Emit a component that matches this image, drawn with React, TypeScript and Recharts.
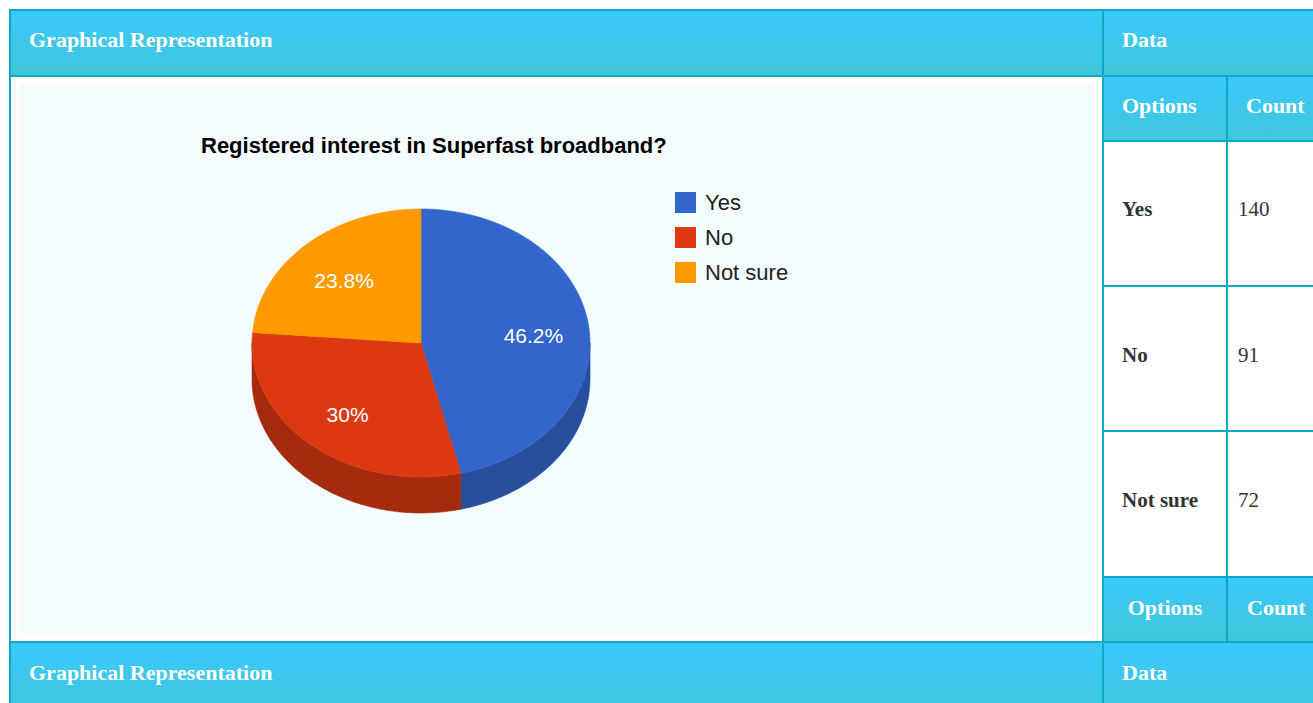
import React from "react";
import { PieChart, Pie, Cell, Legend } from "recharts";

// survey answers
const options = ["Yes", "No", "Not sure"];
const counts = [140, 91, 72];
const sliceColors = ["#3366cc", "#dc3912", "#ff9900"];
const sideColors = ["#274f9c", "#a52b0f", "#bf7300"];
const chartTitle = "Registered interest in Superfast broadband?";
const headLeft = "Graphical Representation";
const headRight = "Data";
const colHeads = ["Options", "Count"];

const pieData = options.map((name, i) => ({ name, value: counts[i] }));

const TILT = 134 / 169; // squash of the top ellipse
const DEPTH = 36; // height of the pie wall
const LINE = "#0aabc2";
const HEAD_BG = "linear-gradient(to bottom, #3bc8fd, #40c6da)";
const SERIF = "'Liberation Serif', 'Times New Roman', serif";
const SANS = "Arial, 'Liberation Sans', sans-serif";

const pos = (x: number, y: number, w: number, h: number, extra: any = {}) => ({
  position: "absolute" as const,
  left: x,
  top: y,
  width: w,
  height: h,
  ...extra,
});

// text placed by baseline (line-height 1 -> baseline ~0.8375em below top)
function Txt({ x, y, size, bold, color, children, w, center }: any) {
  return (
    <div
      style={{
        position: "absolute",
        left: x,
        top: y - size * 0.8375,
        width: w,
        textAlign: center ? "center" : "left",
        fontFamily: SERIF,
        fontWeight: bold ? "bold" : "normal",
        fontSize: size,
        lineHeight: 1,
        color,
        whiteSpace: "nowrap",
      }}
    >
      {children}
    </div>
  );
}

function fmtPct(p: number) {
  return `${parseFloat((p * 100).toFixed(1))}%`;
}

// draws each slice as a tilted 3d wedge, using the angles recharts computed
function slice3d(props: any) {
  const { cx, cy, outerRadius: r, startAngle, endAngle, percent, index } = props;
  const pt = (a: number, rad: number, dy = 0) => {
    const t = (a * Math.PI) / 180;
    return [cx + rad * Math.cos(t), cy - rad * TILT * Math.sin(t) + dy];
  };
  const arc = (a1: number, a2: number, dy = 0) => {
    const n = Math.max(2, Math.ceil(Math.abs(a2 - a1)));
    const out: string[] = [];
    for (let i = 0; i <= n; i++) {
      const p = pt(a1 + ((a2 - a1) * i) / n, r, dy);
      out.push(`${p[0].toFixed(2)},${p[1].toFixed(2)}`);
    }
    return out;
  };
  const top = `M${cx},${cy} L${arc(startAngle, endAngle).join(" L")} Z`;
  const lo = Math.min(startAngle, endAngle);
  const hi = Math.max(startAngle, endAngle);
  const walls: string[] = [];
  for (let k = -2; k <= 1; k++) {
    const a = Math.max(lo, -180 + 360 * k);
    const b = Math.min(hi, 360 * k);
    if (b > a) {
      walls.push(`M${arc(a, b).join(" L")} L${arc(b, a, DEPTH).join(" L")} Z`);
    }
  }
  const mid = (startAngle + endAngle) / 2;
  const lp = pt(mid, r * 0.67, 3);
  return (
    <g key={`s-${index}`}>
      {walls.map((d, i) => (
        <path key={i} d={d} fill={sideColors[index]} stroke={sideColors[index]} strokeWidth={0.6} />
      ))}
      <path d={top} fill={sliceColors[index]} stroke={sliceColors[index]} strokeWidth={0.6} />
      <text
        x={lp[0]}
        y={lp[1]}
        textAnchor="middle"
        dominantBaseline="central"
        fill="#ffffff"
        fontSize={21}
        fontFamily={SANS}
      >
        {fmtPct(percent)}
      </text>
    </g>
  );
}

function LegendBox(p: any) {
  const items = [...(p.payload || [])].sort(
    (a: any, b: any) => options.indexOf(a.value) - options.indexOf(b.value)
  );
  return (
    <div>
      {items.map((e: any, i: number) => {
        const idx = options.indexOf(e.value);
        return (
          <div key={i} style={{ display: "flex", alignItems: "flex-start", height: 35 }}>
            <span style={{ width: 21, height: 21, background: sliceColors[idx >= 0 ? idx : i] }} />
            <span
              style={{
                marginLeft: 9,
                fontFamily: SANS,
                fontSize: 22,
                lineHeight: "21px",
                color: "#222222",
              }}
            >
              {e.value}
            </span>
          </div>
        );
      })}
    </div>
  );
}

export default function App() {
  const rowBase = [217, 363, 508];
  return (
    <div style={{ position: "relative", width: 1313, height: 703, overflow: "hidden", background: "#fff" }}>
      <style>{`html,body{margin:0;padding:0;overflow:hidden;}`}</style>
      {/* header fills */}
      <div style={pos(11, 11, 1091, 64, { background: HEAD_BG })} />
      <div style={pos(1104, 11, 220, 64, { background: HEAD_BG })} />
      <div style={pos(1104, 77, 122, 63, { background: HEAD_BG })} />
      <div style={pos(1228, 77, 100, 63, { background: HEAD_BG })} />
      <div style={pos(1104, 578, 122, 63, { background: HEAD_BG })} />
      <div style={pos(1228, 578, 100, 63, { background: HEAD_BG })} />
      <div style={pos(11, 643, 1091, 70, { background: HEAD_BG })} />
      <div style={pos(1104, 643, 220, 70, { background: HEAD_BG })} />

      {/* grid lines */}
      <div style={pos(9, 9, 1320, 2, { background: LINE })} />
      <div style={pos(9, 75, 1320, 2, { background: LINE })} />
      <div style={pos(1102, 140, 230, 2, { background: LINE })} />
      <div style={pos(1102, 285, 230, 2, { background: LINE })} />
      <div style={pos(1102, 430, 230, 2, { background: LINE })} />
      <div style={pos(1102, 576, 230, 2, { background: LINE })} />
      <div style={pos(9, 641, 1320, 2, { background: LINE })} />
      <div style={pos(9, 9, 2, 700, { background: LINE })} />
      <div style={pos(1102, 9, 2, 700, { background: LINE })} />
      <div style={pos(1226, 75, 2, 568, { background: LINE })} />

      {/* header texts */}
      <Txt x={29} y={47} size={22} bold color="#fff">{headLeft}</Txt>
      <Txt x={1122} y={47} size={22} bold color="#fff">{headRight}</Txt>
      <Txt x={1122} y={113} size={22} bold color="#fff">{colHeads[0]}</Txt>
      <Txt x={1246} y={113} size={22} bold color="#fff">{colHeads[1]}</Txt>
      <Txt x={1104} w={122} center y={615} size={22} bold color="#fff">{colHeads[0]}</Txt>
      <Txt x={1247} y={615} size={22} bold color="#fff">{colHeads[1]}</Txt>
      <Txt x={29} y={680} size={22} bold color="#fff">{headLeft}</Txt>
      <Txt x={1122} y={680} size={22} bold color="#fff">{headRight}</Txt>

      {/* data rows */}
      {options.map((o, i) => (
        <React.Fragment key={o}>
          <Txt x={1122} y={rowBase[i]} size={21} bold color="#333">{o}</Txt>
          <Txt x={1238} y={rowBase[i]} size={21} color="#333">{counts[i]}</Txt>
        </React.Fragment>
      ))}

      {/* chart panel */}
      <div style={pos(20, 85, 1073, 548, { background: "#f3fbfd" })}>
        <PieChart width={1073} height={548} margin={{ top: 0, right: 0, bottom: 0, left: 0 }}>
          <text
            x={181}
            y={68}
            fill="#000"
            fontSize={22}
            fontWeight="bold"
            fontFamily={SANS}
          >
            {chartTitle}
          </text>
          <Pie
            data={pieData}
            dataKey="value"
            nameKey="name"
            cx={401}
            cy={258}
            outerRadius={169}
            startAngle={90}
            endAngle={-270}
            stroke="none"
            fillOpacity={0}
            label={slice3d}
            labelLine={false}
            isAnimationActive={false}
          >
            {pieData.map((d, i) => (
              <Cell key={d.name} fill={sliceColors[i]} fillOpacity={0} stroke="none" />
            ))}
          </Pie>
          <Legend
            layout="vertical"
            align="right"
            verticalAlign="bottom"
            content={LegendBox}
            wrapperStyle={{ left: 655, top: 107, right: "auto", bottom: "auto", width: 200 }}
          />
        </PieChart>
      </div>
    </div>
  );
}
